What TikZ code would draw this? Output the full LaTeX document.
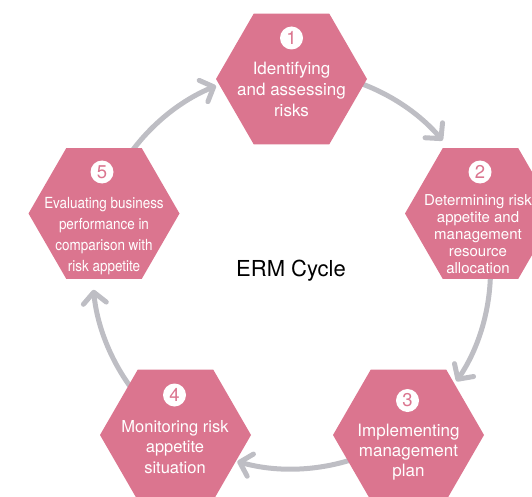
\documentclass[tikz,border=0pt]{standalone}
\usepackage{fontspec}
\setmainfont{TeX Gyre Heros}
\newfontfamily\condfont[FakeStretch=0.88]{TeX Gyre Heros}
\usetikzlibrary{shapes.geometric,arrows.meta}
\definecolor{hexpink}{RGB}{219,117,143}
\definecolor{arrowgrey}{RGB}{190,190,196}
\begin{document}
\begin{tikzpicture}[x=1pt,y=1pt,
  hexa/.style={regular polygon, regular polygon sides=6, minimum size=151pt, inner sep=0pt, outer sep=0pt, fill=hexpink, draw=none},
  numc/.style={circle, fill=white, minimum size=23pt, inner sep=0pt, text=hexpink, font=\fontsize{18.5}{18.5}\selectfont},
  lbl/.style={text=white, align=center, inner sep=0pt, font=\fontsize{17}{21}\selectfont},
  cyc/.style={line width=5pt, draw=arrowgrey, line cap=round, -{Straight Barb[length=11pt,width=23pt,round]}}]
\useasboundingbox (0,0) rectangle (532,-497);
\clip (0,0) rectangle (532,-497);
\coordinate (o) at (291.5,-270);
% cycle arrows
\coordinate (a1) at ([shift={(73:199)}]o);
\coordinate (a2) at ([shift={(1:199)}]o);
\coordinate (a3) at ([shift={(-71:199)}]o);
\coordinate (a4) at ([shift={(-143:199)}]o);
\coordinate (a5) at ([shift={(145:199)}]o);
\draw[cyc] (a1) arc[start angle=73, end angle=40.6, radius=199];
\draw[cyc] (a2) arc[start angle=1, end angle=-34, radius=199];
\draw[cyc] (a3) arc[start angle=-71, end angle=-105.8, radius=199];
\draw[cyc] (a4) arc[start angle=-143, end angle=-174.3, radius=199];
\draw[cyc] (a5) arc[start angle=145, end angle=112.3, radius=199];
% hexagons
\node[hexa] (h1) at (291.5,-79) {};
\node[hexa] (h2) at (480.5,-213.5) {};
\node[hexa] (h3) at (408.5,-435) {};
\node[hexa] (h4) at (175.5,-435) {};
\node[hexa] (h5) at (104,-213.5) {};
% numbers
\node[numc] (n1) at (291.5,-38) {1};
\node[numc] (n2) at (480,-172) {2};
\node[numc] (n3) at (407.5,-400.5) {3};
\node[numc] (n4) at (174.5,-395) {4};
\node[numc] (n5) at (102,-172) {5};
% labels
\node[lbl] (t1) at (291.5,-89) {Identifying\\and assessing\\risks};
\node[lbl, font=\fontsize{15}{17}\selectfont] (t2) at (478,-234) {Determining risk\\appetite and\\management\\resource\\allocation};
\node[lbl, font=\fontsize{17}{20}\selectfont] (t3) at (408.5,-451.7) {Implementing\\management\\plan};
\node[lbl, font=\fontsize{16.5}{20.5}\selectfont] (t4) at (175,-447) {Monitoring risk\\appetite\\situation};
\node[lbl, font=\condfont\fontsize{15.3}{21}\selectfont] (t5) at (104,-236) {Evaluating business\\performance in\\comparison with\\risk appetite};
\node[font=\fontsize{22}{22}\selectfont, text=black] (erm) at (291,-271) {ERM Cycle};
\end{tikzpicture}
\end{document}
